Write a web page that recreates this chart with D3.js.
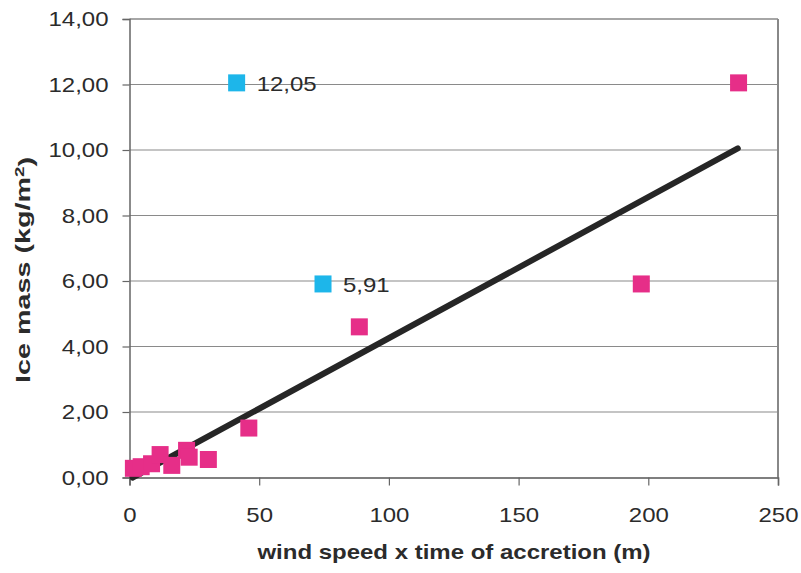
<!DOCTYPE html>
<html><head><meta charset="utf-8">
<script src="https://cdn.jsdelivr.net/npm/d3@7"></script>
<style>
html,body{margin:0;padding:0;background:#fff;}
text{font-family:"Liberation Sans",Arial,sans-serif;fill:#2b2b2b;}
</style></head>
<body><svg id="c" width="801" height="573"></svg>
<script>
// Data
const pinkX = [1.5, 4.5, 8.5, 11.8, 16.3, 22.0, 23.0, 30.4, 46.0, 88.6, 197.3, 234.8];
const pinkY = [0.28, 0.33, 0.42, 0.70, 0.37, 0.83, 0.62, 0.55, 1.51, 4.60, 5.91, 12.05];
const blueX = [41.3, 74.6];
const blueY = [12.05, 5.91];
const blueLabels = ["12,05", "5,91"];
const trendX = [1.2, 234.5];
const trendY = [0.0, 10.05];
const xTicks = [0, 50, 100, 150, 200, 250];
const yTicks = [0, 2, 4, 6, 8, 10, 12, 14];
const xTitle = "wind speed x time of accretion (m)";

const svg = d3.select("#c");
const L = 129.5, R = 778, T = 19, B = 477.5;
const SX = 1.2; // horizontal stretch of glyphs in the reference

const x = d3.scaleLinear().domain([0, 250]).range([L, R]);
const y = d3.scaleLinear().domain([0, 14]).range([B, T]);

// gridlines
svg.append("g").selectAll("line").data(yTicks.filter(d => d > 0 && d < 14)).join("line")
  .attr("x1", L).attr("x2", R).attr("y1", d => y(d)).attr("y2", d => y(d))
  .attr("stroke", "#8a8a8a").attr("stroke-width", 1.2);
// frame top and right
svg.append("line").attr("x1", L).attr("x2", R).attr("y1", T).attr("y2", T)
  .attr("stroke", "#888").attr("stroke-width", 1.5);
svg.append("line").attr("x1", R).attr("x2", R).attr("y1", T).attr("y2", B)
  .attr("stroke", "#888").attr("stroke-width", 2);

const fmt = d => d3.format(".2f")(d).replace(".", ",");

// y axis
const ya = svg.append("g").attr("transform", `translate(${L},0)`)
  .call(d3.axisLeft(y).tickValues(yTicks).tickSize(7).tickFormat(fmt));
ya.select(".domain").attr("stroke", "#666").attr("stroke-width", 1.5);
ya.selectAll(".tick line").attr("stroke", "#666").attr("stroke-width", 1.2);
ya.selectAll(".tick text").attr("x", -21 / SX).attr("dy", "0.33em")
  .attr("transform", `scale(${SX},1)`)
  .style("font-size", "20px").attr("fill", "#2b2b2b");

// x axis
const xa = svg.append("g").attr("transform", `translate(0,${B})`)
  .call(d3.axisBottom(x).tickValues(xTicks).tickSize(8).tickFormat(d3.format("d")));
xa.select(".domain").attr("stroke", "#555").attr("stroke-width", 1.5);
xa.selectAll(".tick line").attr("stroke", "#666").attr("stroke-width", 1.2);
xa.selectAll(".tick text").attr("y", 45).attr("dy", "0")
  .attr("transform", `scale(${SX},1)`)
  .style("font-size", "20px").attr("fill", "#2b2b2b");

// titles
svg.append("text").attr("transform", `translate(454,559) scale(${SX},1)`)
  .attr("text-anchor", "middle").style("font-size", "20px").style("font-weight", "bold")
  .text(xTitle);
const yt = svg.append("text").attr("text-anchor", "middle")
  .style("font-size", "20px").style("font-weight", "bold");
yt.append("tspan").text("Ice mass (kg/m");
yt.append("tspan").attr("dy", "-0.45em").style("font-size", "13px").text("2");
yt.append("tspan").attr("dy", "0.45em").text(")");
const len = yt.node().getComputedTextLength();
yt.attr("transform", `translate(30,270) rotate(-90) scale(${226 / len},1)`);

// trend line
const tl = d3.line().x(d => x(d[0])).y(d => y(d[1]));
svg.append("path").datum(d3.zip(trendX, trendY)).attr("d", tl)
  .attr("stroke", "#262626").attr("stroke-width", 6).attr("fill", "none")
  .attr("stroke-linecap", "round");

// points
const S = 17;
svg.append("g").selectAll("rect").data(d3.zip(pinkX, pinkY)).join("rect")
  .attr("x", d => x(d[0]) - S / 2).attr("y", d => y(d[1]) - S / 2)
  .attr("width", S).attr("height", S).attr("fill", "#e62e88");
svg.append("g").selectAll("rect").data(d3.zip(blueX, blueY)).join("rect")
  .attr("x", d => x(d[0]) - S / 2).attr("y", d => y(d[1]) - S / 2)
  .attr("width", S).attr("height", S).attr("fill", "#1db6ea");
svg.append("g").selectAll("text").data(d3.zip(blueX, blueY, blueLabels)).join("text")
  .attr("transform", d => `translate(${x(d[0]) + 20},${y(d[1]) + 8}) scale(${SX},1)`)
  .style("font-size", "20px").text(d => d[2]);
</script></body></html>
